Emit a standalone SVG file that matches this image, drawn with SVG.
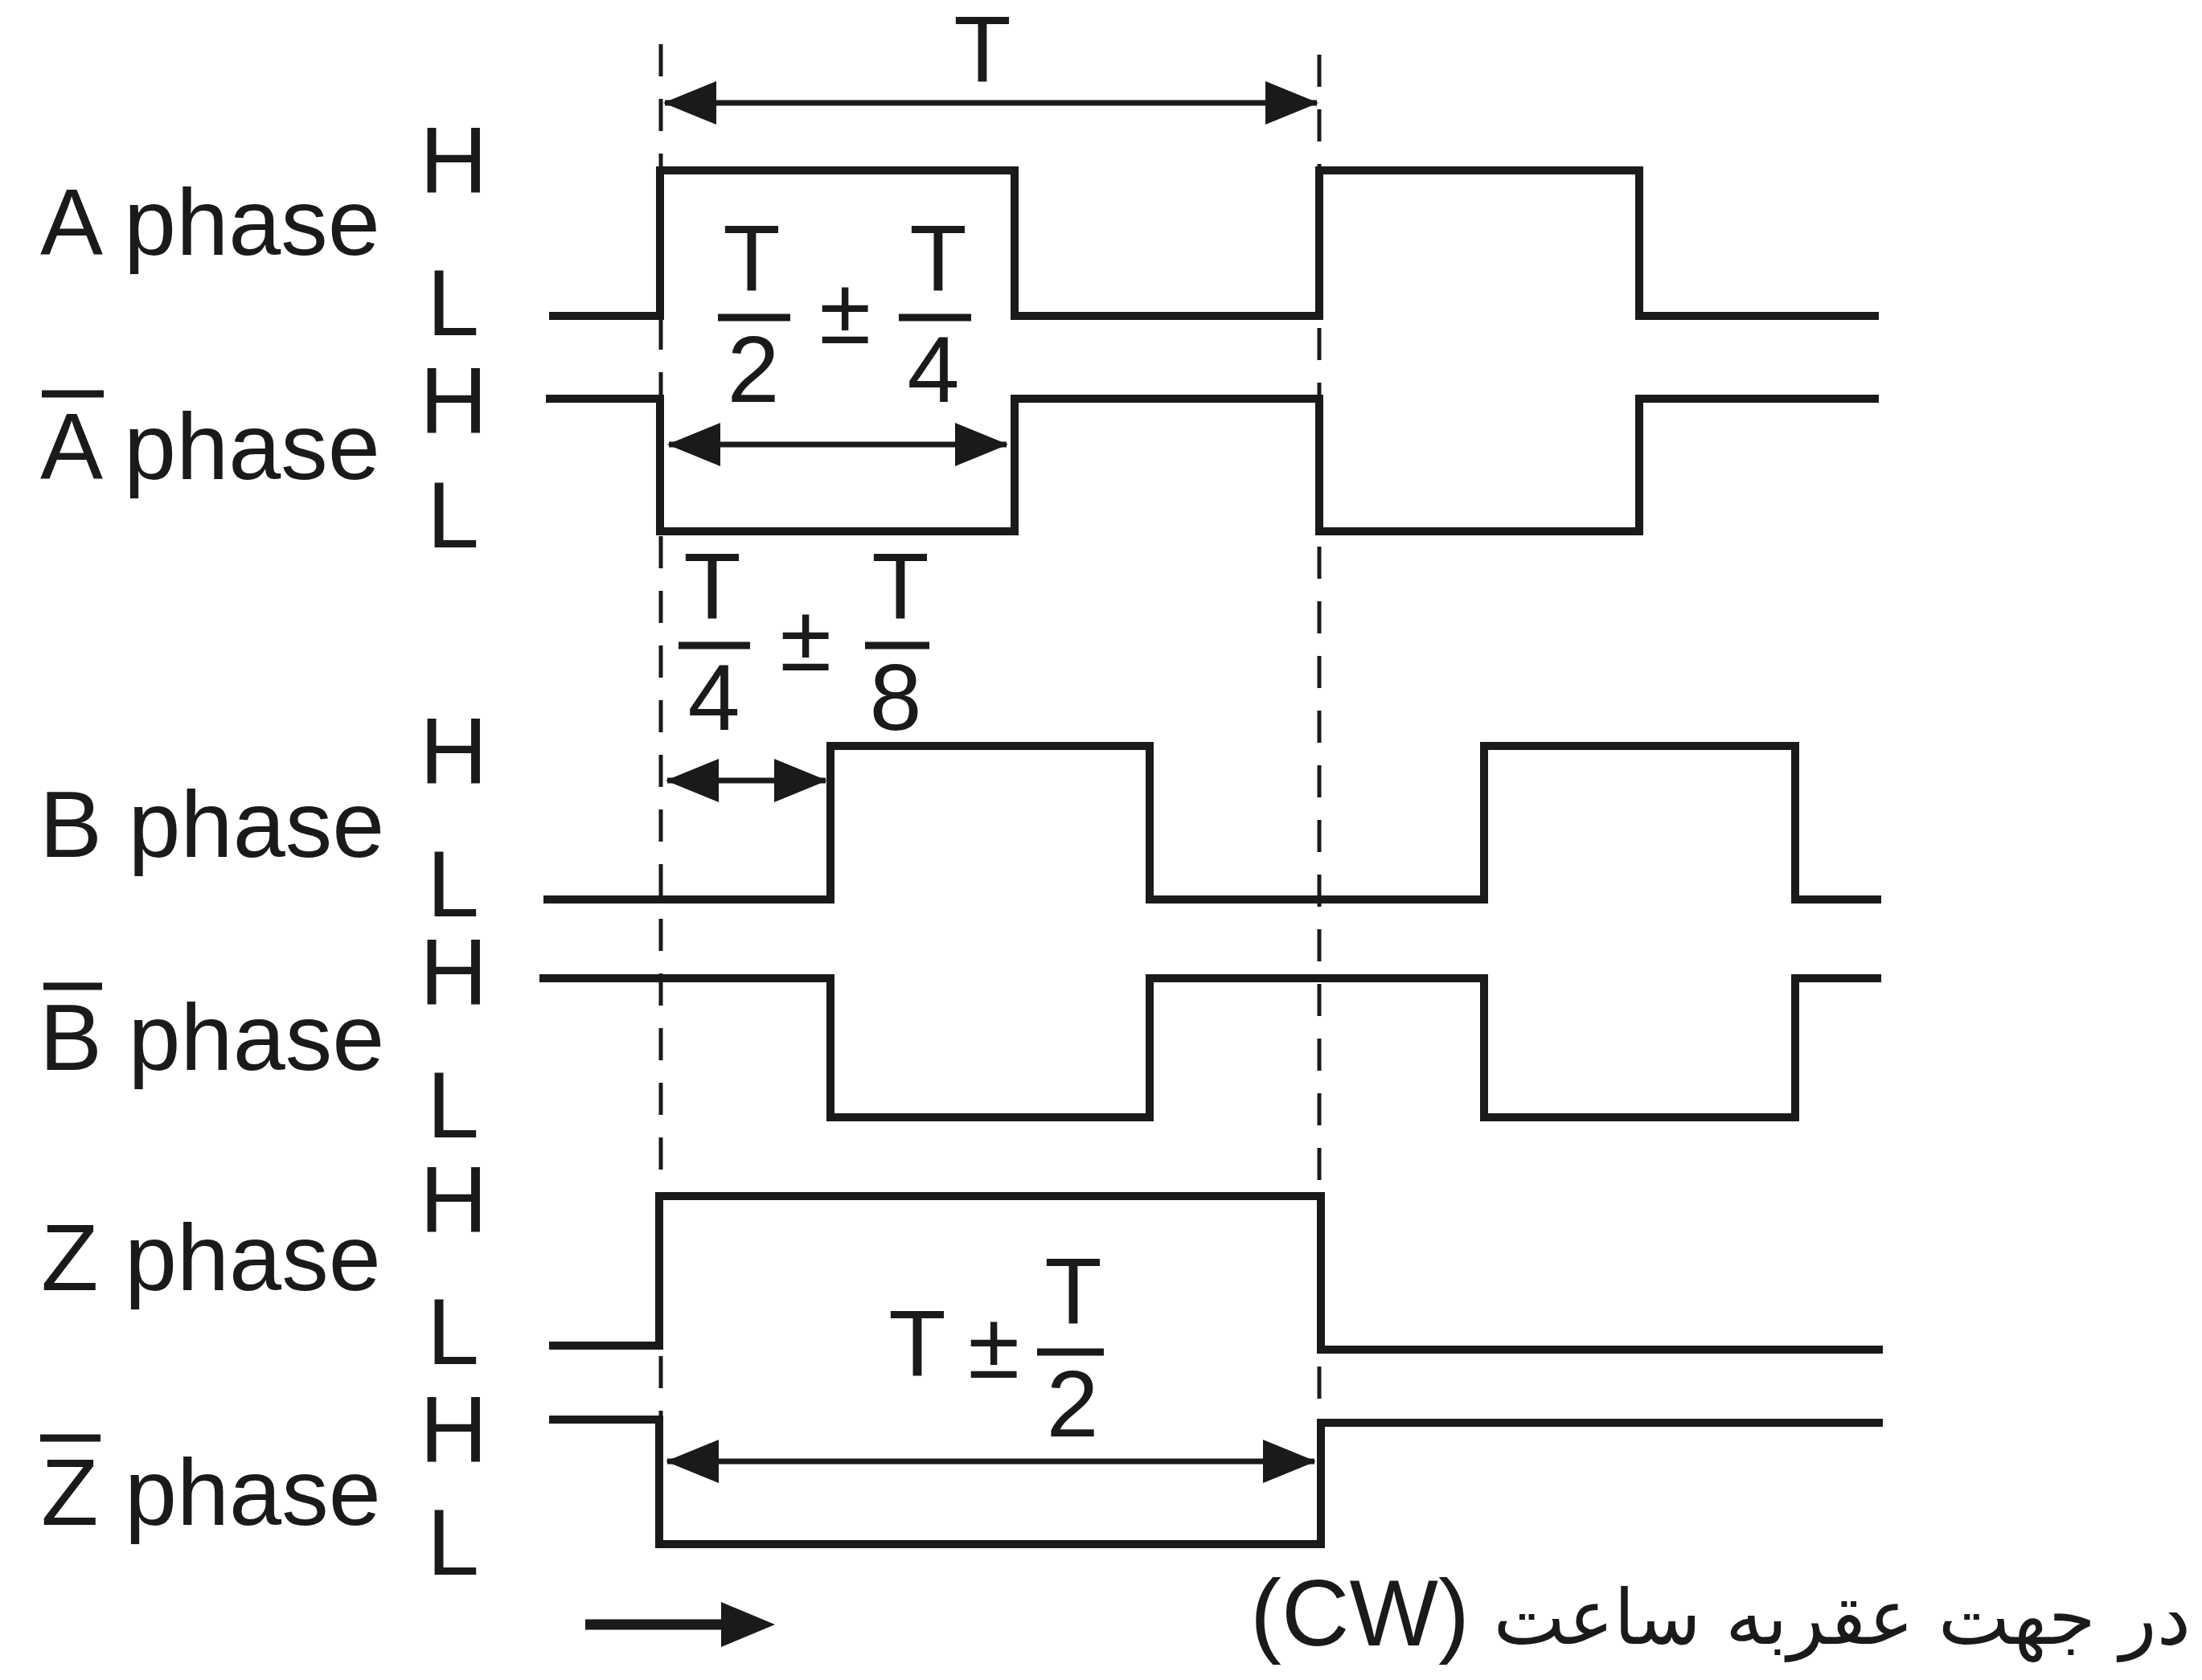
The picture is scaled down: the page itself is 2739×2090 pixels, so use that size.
<svg xmlns="http://www.w3.org/2000/svg" width="2739" height="2090" viewBox="0 0 2739 2090">
<style>
  .lbl { font-family: "Liberation Sans", Arial, sans-serif; font-size: 117px; fill: #1a1a1a; }
  .mid { text-anchor: middle; }
  .wave { fill: none; stroke: #1a1a1a; stroke-width: 10; stroke-linejoin: miter; stroke-linecap: butt; }
  .bar { stroke: #1a1a1a; stroke-width: 9; }
  .dash { fill: none; stroke: #1a1a1a; stroke-width: 5; stroke-dasharray: 40 28; }
  .dim { fill: none; stroke: #1a1a1a; stroke-width: 7; marker-start: url(#ah); marker-end: url(#ah); }
  .fa { font-family: "DejaVu Sans", sans-serif; font-size: 95px; fill: #1a1a1a; }
</style>
<defs>
  <marker id="ah" markerUnits="userSpaceOnUse" markerWidth="66" markerHeight="54" viewBox="0 0 66 54" refX="64" refY="27" orient="auto-start-reverse">
    <path d="M0,0 L66,27 L0,54 Z" fill="#1a1a1a"/>
  </marker>
</defs>
<rect width="2739" height="2090" fill="#ffffff"/>

<!-- dashed reference lines -->
<g id="guides">
  <line class="dash" x1="822" y1="55" x2="822" y2="1770"/>
  <line class="dash" x1="1641" y1="68" x2="1641" y2="1770"/>
</g>

<g id="sig-A">
  <text class="lbl" x="50" y="317">A phase</text>
  <text class="lbl" x="522" y="239">H</text>
  <text class="lbl" x="531" y="417">L</text>
  <path class="wave" d="M683,393 H821 V212 H1262 V393 H1641 V212 H2039 V393 H2337"/>
</g>

<g id="sig-Abar">
  <line class="bar" x1="52" y1="490" x2="129" y2="490"/>
  <text class="lbl" x="50" y="596">A phase</text>
  <text class="lbl" x="522" y="538">H</text>
  <text class="lbl" x="531" y="681">L</text>
  <path class="wave" d="M679,496 H821 V661 H1262 V496 H1641 V661 H2039 V496 H2337"/>
</g>

<g id="sig-B">
  <text class="lbl" x="49" y="1066">B phase</text>
  <text class="lbl" x="522" y="974">H</text>
  <text class="lbl" x="531" y="1140">L</text>
  <path class="wave" d="M676,1119 H1033 V928 H1430 V1119 H1846 V928 H2233 V1119 H2340"/>
</g>

<g id="sig-Bbar">
  <line class="bar" x1="54" y1="1227" x2="127" y2="1227"/>
  <text class="lbl" x="49" y="1331">B phase</text>
  <text class="lbl" x="522" y="1249">H</text>
  <text class="lbl" x="531" y="1415">L</text>
  <path class="wave" d="M671,1217 H1033 V1390 H1430 V1217 H1846 V1390 H2233 V1217 H2340"/>
</g>

<g id="sig-Z">
  <text class="lbl" x="51" y="1605">Z phase</text>
  <text class="lbl" x="522" y="1532">H</text>
  <text class="lbl" x="531" y="1697">L</text>
  <path class="wave" d="M683,1674 H820 V1488 H1643 V1679 H2342"/>
</g>

<g id="sig-Zbar">
  <line class="bar" x1="50" y1="1789" x2="125" y2="1789"/>
  <text class="lbl" x="51" y="1897">Z phase</text>
  <text class="lbl" x="522" y="1818">H</text>
  <text class="lbl" x="531" y="1959">L</text>
  <path class="wave" d="M683,1766 H820 V1921 H1643 V1770 H2342"/>
</g>

<g id="label-T">
  <text class="lbl mid" x="1222" y="102">T</text>
</g>

<g id="label-T2T4">
  <text class="lbl mid" x="935" y="362">T</text>
  <line class="bar" x1="893" y1="395" x2="983" y2="395"/>
  <text class="lbl mid" x="937" y="500">2</text>
  <text class="lbl mid" x="1051" y="427">±</text>
  <text class="lbl mid" x="1167" y="362">T</text>
  <line class="bar" x1="1118" y1="395" x2="1208" y2="395"/>
  <text class="lbl mid" x="1161" y="500">4</text>
</g>

<g id="label-T4T8">
  <text class="lbl mid" x="886" y="770">T</text>
  <line class="bar" x1="844" y1="803" x2="933" y2="803"/>
  <text class="lbl mid" x="888" y="908">4</text>
  <text class="lbl mid" x="1002" y="834">±</text>
  <text class="lbl mid" x="1120" y="770">T</text>
  <line class="bar" x1="1076" y1="803" x2="1156" y2="803"/>
  <text class="lbl mid" x="1114" y="908">8</text>
</g>

<g id="label-TT2">
  <text class="lbl mid" x="1141" y="1712">T</text>
  <text class="lbl mid" x="1236" y="1714">±</text>
  <text class="lbl mid" x="1335" y="1647">T</text>
  <line class="bar" x1="1290" y1="1682" x2="1373" y2="1682"/>
  <text class="lbl mid" x="1334" y="1787">2</text>
</g>

<g id="connectors">
  <line class="dim" x1="827" y1="128" x2="1638" y2="128"/>
  <line class="dim" x1="832" y1="553" x2="1252" y2="553"/>
  <line class="dim" x1="830" y1="971" x2="1027" y2="971"/>
  <line class="dim" x1="830" y1="1818" x2="1635" y2="1818"/>
  <line x1="728" y1="2021" x2="905" y2="2021" stroke="#1a1a1a" stroke-width="13"/>
  <polygon points="897,1993 964,2021 897,2049" fill="#1a1a1a"/>
</g>

<g id="caption">
  <text class="lbl" x="1555" y="2047">(CW)</text>
  <text class="fa" x="2725" y="2045" text-anchor="end">در جهت عقربه ساعت</text>
</g>
</svg>
